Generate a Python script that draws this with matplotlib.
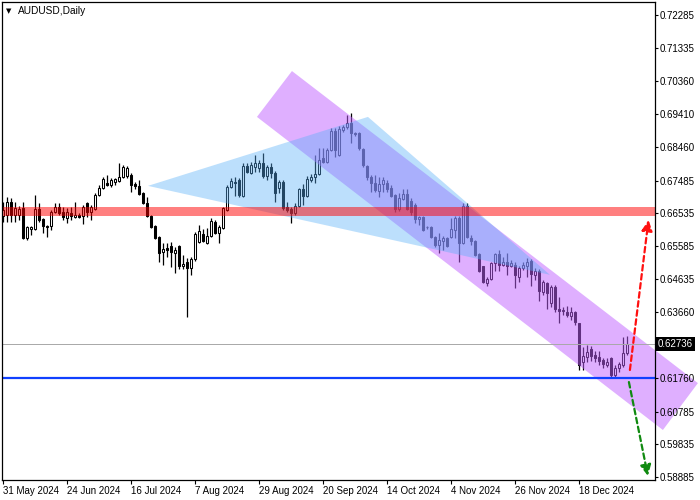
import numpy as np
import matplotlib
matplotlib.use('Agg')
import matplotlib.pyplot as plt
from matplotlib.patches import Polygon, FancyArrowPatch
from matplotlib.transforms import blended_transform_factory

plt.rcParams['font.family'] = ['Liberation Sans', 'DejaVu Sans']

# AUDUSD daily candles, 31 May 2024 .. early Jan 2025
opens = [0.6646, 0.6649, 0.6686, 0.6649, 0.6649, 0.6669, 0.6582, 0.6608, 0.6608, 0.6666,
         0.6637, 0.6617, 0.6617, 0.6657, 0.6672, 0.6657, 0.6640, 0.6654, 0.6643, 0.6649,
         0.6646, 0.6683, 0.6657, 0.6666, 0.6707, 0.6727, 0.6741, 0.6736, 0.6744, 0.6747,
         0.6759, 0.6762, 0.6765, 0.6738, 0.6733, 0.6712, 0.6683, 0.6646, 0.6617, 0.6585,
         0.6541, 0.6553, 0.6559, 0.6538, 0.6559, 0.6501, 0.6512, 0.6495, 0.6521, 0.6570,
         0.6593, 0.6567, 0.6588, 0.6628, 0.6596, 0.6611, 0.6663, 0.6730, 0.6744, 0.6750,
         0.6704, 0.6791, 0.6770, 0.6788, 0.6785, 0.6799, 0.6762, 0.6788, 0.6770, 0.6727,
         0.6744, 0.6672, 0.6666, 0.6654, 0.6675, 0.6724, 0.6704, 0.6750, 0.6759, 0.6767,
         0.6814, 0.6802, 0.6837, 0.6892, 0.6822, 0.6895, 0.6904, 0.6915, 0.6886, 0.6886,
         0.6840, 0.6791, 0.6759, 0.6741, 0.6718, 0.6738, 0.6741, 0.6727, 0.6707, 0.6666,
         0.6695, 0.6709, 0.6689, 0.6678, 0.6637, 0.6643, 0.6614, 0.6614, 0.6585, 0.6562,
         0.6573, 0.6582, 0.6585, 0.6605, 0.6640, 0.6567, 0.6675, 0.6582, 0.6573, 0.6535,
         0.6501, 0.6451, 0.6463, 0.6509, 0.6535, 0.6504, 0.6512, 0.6501, 0.6504, 0.6469,
         0.6495, 0.6501, 0.6515, 0.6475, 0.6486, 0.6425, 0.6451, 0.6393, 0.6440, 0.6376,
         0.6370, 0.6367, 0.6356, 0.6367, 0.6335, 0.6222, 0.6237, 0.6260, 0.6243, 0.6237,
         0.6228, 0.6214, 0.6234, 0.6184, 0.6205, 0.6214, 0.6248]
highs = [0.6686, 0.6701, 0.6698, 0.6686, 0.6675, 0.6686, 0.6617, 0.6617, 0.6707, 0.6683,
         0.6640, 0.6620, 0.6663, 0.6683, 0.6683, 0.6672, 0.6669, 0.6672, 0.6686, 0.6654,
         0.6678, 0.6686, 0.6678, 0.6712, 0.6736, 0.6759, 0.6765, 0.6756, 0.6756, 0.6799,
         0.6794, 0.6791, 0.6770, 0.6744, 0.6750, 0.6715, 0.6701, 0.6649, 0.6620, 0.6588,
         0.6567, 0.6567, 0.6570, 0.6556, 0.6562, 0.6533, 0.6524, 0.6527, 0.6599, 0.6620,
         0.6608, 0.6611, 0.6640, 0.6634, 0.6620, 0.6672, 0.6736, 0.6756, 0.6759, 0.6756,
         0.6799, 0.6799, 0.6802, 0.6823, 0.6808, 0.6828, 0.6794, 0.6799, 0.6776, 0.6750,
         0.6750, 0.6686, 0.6672, 0.6683, 0.6727, 0.6738, 0.6762, 0.6767, 0.6823, 0.6843,
         0.6843, 0.6843, 0.6901, 0.6901, 0.6907, 0.6910, 0.6939, 0.6944, 0.6889, 0.6889,
         0.6843, 0.6794, 0.6765, 0.6765, 0.6759, 0.6759, 0.6750, 0.6736, 0.6709, 0.6712,
         0.6724, 0.6724, 0.6698, 0.6683, 0.6646, 0.6646, 0.6617, 0.6617, 0.6588, 0.6596,
         0.6588, 0.6585, 0.6640, 0.6646, 0.6646, 0.6683, 0.6683, 0.6591, 0.6576, 0.6538,
         0.6501, 0.6469, 0.6512, 0.6538, 0.6547, 0.6527, 0.6538, 0.6518, 0.6512, 0.6501,
         0.6512, 0.6524, 0.6521, 0.6495, 0.6492, 0.6460, 0.6454, 0.6446, 0.6446, 0.6411,
         0.6382, 0.6385, 0.6382, 0.6370, 0.6335, 0.6265, 0.6272, 0.6269, 0.6254, 0.6254,
         0.6234, 0.6234, 0.6237, 0.6214, 0.6222, 0.6294, 0.6298]
lows = [0.6628, 0.6628, 0.6628, 0.6628, 0.6634, 0.6579, 0.6576, 0.6591, 0.6605, 0.6628,
        0.6596, 0.6585, 0.6605, 0.6654, 0.6649, 0.6634, 0.6625, 0.6634, 0.6640, 0.6640,
        0.6622, 0.6643, 0.6634, 0.6663, 0.6704, 0.6724, 0.6733, 0.6730, 0.6736, 0.6744,
        0.6756, 0.6756, 0.6715, 0.6724, 0.6707, 0.6680, 0.6643, 0.6611, 0.6579, 0.6512,
        0.6504, 0.6527, 0.6498, 0.6480, 0.6492, 0.6492, 0.6353, 0.6474, 0.6515, 0.6567,
        0.6570, 0.6564, 0.6585, 0.6593, 0.6567, 0.6608, 0.6660, 0.6727, 0.6704, 0.6701,
        0.6701, 0.6770, 0.6767, 0.6773, 0.6773, 0.6756, 0.6750, 0.6756, 0.6686, 0.6712,
        0.6663, 0.6657, 0.6625, 0.6649, 0.6672, 0.6678, 0.6701, 0.6744, 0.6741, 0.6765,
        0.6799, 0.6799, 0.6834, 0.6817, 0.6820, 0.6889, 0.6898, 0.6857, 0.6878, 0.6837,
        0.6788, 0.6750, 0.6715, 0.6715, 0.6701, 0.6715, 0.6715, 0.6701, 0.6657, 0.6660,
        0.6692, 0.6663, 0.6649, 0.6625, 0.6620, 0.6602, 0.6608, 0.6582, 0.6556, 0.6538,
        0.6547, 0.6556, 0.6582, 0.6582, 0.6512, 0.6564, 0.6582, 0.6562, 0.6530, 0.6483,
        0.6451, 0.6443, 0.6460, 0.6486, 0.6486, 0.6501, 0.6475, 0.6498, 0.6437, 0.6454,
        0.6489, 0.6469, 0.6443, 0.6460, 0.6399, 0.6417, 0.6376, 0.6382, 0.6367, 0.6335,
        0.6358, 0.6353, 0.6344, 0.6330, 0.6199, 0.6199, 0.6222, 0.6225, 0.6222, 0.6214,
        0.6205, 0.6208, 0.6179, 0.6179, 0.6193, 0.6208, 0.6243]
closes = [0.6663, 0.6686, 0.6649, 0.6669, 0.6666, 0.6582, 0.6614, 0.6614, 0.6666, 0.6634,
          0.6617, 0.6614, 0.6657, 0.6672, 0.6654, 0.6643, 0.6657, 0.6646, 0.6649, 0.6643,
          0.6672, 0.6657, 0.6672, 0.6707, 0.6727, 0.6753, 0.6736, 0.6750, 0.6753, 0.6759,
          0.6788, 0.6785, 0.6736, 0.6733, 0.6709, 0.6683, 0.6646, 0.6614, 0.6582, 0.6538,
          0.6550, 0.6547, 0.6541, 0.6547, 0.6501, 0.6506, 0.6495, 0.6521, 0.6593, 0.6602,
          0.6573, 0.6588, 0.6631, 0.6596, 0.6614, 0.6669, 0.6730, 0.6747, 0.6741, 0.6707,
          0.6791, 0.6773, 0.6794, 0.6799, 0.6799, 0.6762, 0.6788, 0.6770, 0.6712, 0.6744,
          0.6669, 0.6663, 0.6654, 0.6675, 0.6724, 0.6704, 0.6753, 0.6759, 0.6767, 0.6808,
          0.6802, 0.6837, 0.6892, 0.6837, 0.6898, 0.6904, 0.6915, 0.6886, 0.6883, 0.6843,
          0.6794, 0.6759, 0.6741, 0.6721, 0.6738, 0.6750, 0.6724, 0.6704, 0.6666, 0.6698,
          0.6709, 0.6666, 0.6657, 0.6637, 0.6643, 0.6605, 0.6613, 0.6585, 0.6562, 0.6576,
          0.6582, 0.6559, 0.6608, 0.6640, 0.6567, 0.6675, 0.6585, 0.6573, 0.6533, 0.6486,
          0.6454, 0.6463, 0.6509, 0.6535, 0.6504, 0.6512, 0.6501, 0.6509, 0.6475, 0.6495,
          0.6504, 0.6512, 0.6477, 0.6486, 0.6428, 0.6454, 0.6422, 0.6440, 0.6376, 0.6370,
          0.6373, 0.6358, 0.6367, 0.6338, 0.6214, 0.6240, 0.6251, 0.6240, 0.6234, 0.6225,
          0.6216, 0.6222, 0.6184, 0.6205, 0.6216, 0.6248, 0.62736]

date_labels = ['31 May 2024', '24 Jun 2024', '16 Jul 2024', '7 Aug 2024', '29 Aug 2024',
               '20 Sep 2024', '14 Oct 2024', '4 Nov 2024', '26 Nov 2024', '18 Dec 2024']
date_bars = [0, 16, 32, 48, 64, 80, 96, 112, 128, 144]
price_ticks = [0.72285, 0.71335, 0.70360, 0.69410, 0.68460, 0.67485, 0.66535,
               0.65585, 0.64635, 0.63660, 0.61760, 0.60785, 0.59835, 0.58885]

# drawn objects (bar index, price)
resistance_zone = (0.6647, 0.6671)
support_level = 0.6176
last_price = 0.62736
channel = [(72.25, 0.7066), (173.75, 0.6161), (165.0, 0.6025), (63.5, 0.6933)]
triangle = [(36.25, 0.6733), (91.25, 0.6933), (136.75, 0.6475)]
up_arrow = [(156.75, 0.6199), (161.4, 0.6634)]
down_arrow = [(156.5, 0.6164), (161.25, 0.5892)]

o = np.array(opens)
h = np.array(highs)
l = np.array(lows)
c = np.array(closes)
x = np.arange(len(o))
up = c >= o

fig = plt.figure(figsize=(7, 5), dpi=100)
ax = fig.add_axes([2 / 700, 20.5 / 500, 652.5 / 700, 478 / 500])

# candles: hollow = up day, black = down day
ax.vlines(x, l, h, color='black', lw=0.9, zorder=0.6)
body_lo = np.minimum(o, c)
body_h = np.maximum(np.abs(c - o), 0.00003)
ax.bar(x[up], body_h[up], bottom=body_lo[up], width=0.58, facecolor='white',
       edgecolor='black', lw=0.75, zorder=0.7)
ax.bar(x[~up], body_h[~up], bottom=body_lo[~up], width=0.58, facecolor='black',
       edgecolor='black', lw=0.75, zorder=0.7)

# objects
ax.add_patch(Polygon(channel, closed=True, facecolor='#c060ff', alpha=0.5,
                     edgecolor='none', zorder=1.0, clip_on=False))
ax.add_patch(Polygon(triangle, closed=True, facecolor='#58b0f8', alpha=0.4,
                     edgecolor='none', zorder=1.1))
ax.axhspan(resistance_zone[0], resistance_zone[1], color='red', alpha=0.5, lw=0, zorder=1.2)
ax.axhline(last_price, color='#a8a8a8', lw=0.7, zorder=1.3)
ax.axhline(support_level, color='#1040ff', lw=1.6, zorder=1.3)

for (a, b), col in [(up_arrow, '#ff1010'), (down_arrow, '#108a10')]:
    arr = FancyArrowPatch(a, b, arrowstyle='-|>', mutation_scale=16, lw=1.6,
                          linestyle=(0, (2.5, 1.6)), color=col, zorder=1.5,
                          shrinkA=0, shrinkB=0)
    ax.add_patch(arr)

ax.set_xlim(-0.25, 162.9)
ax.set_ylim(0.58814, 0.72677)

ax.set_xticks(date_bars)
ax.set_xticklabels(date_labels)
for lab in ax.get_xticklabels():
    lab.set_horizontalalignment('left')
ax.tick_params(axis='x', length=3, width=0.8, pad=1.5, labelsize=7)

ax.yaxis.tick_right()
ax.set_yticks(price_ticks)
ax.set_yticklabels([f'{t:.5f}' for t in price_ticks])
ax.tick_params(axis='y', length=2.5, width=0.8, pad=1.5, labelsize=7)

for s in ax.spines.values():
    s.set_linewidth(0.9)

trans = blended_transform_factory(ax.transAxes, ax.transData)
ax.annotate(f'{last_price:.5f}', xy=(1, last_price), xycoords=trans,
            xytext=(2.4, 0), textcoords='offset points', va='center', ha='left',
            color='white', fontsize=7, annotation_clip=False, zorder=5,
            bbox=dict(boxstyle='square,pad=0.22', fc='black', ec='none'))

fig.text(6 / 700, 1 - 11 / 500, '\u25bc', fontsize=5, va='center', ha='left',
         family=['DejaVu Sans'])
fig.text(18 / 700, 1 - 11.5 / 500, 'AUDUSD,Daily', fontsize=7.3, va='center', ha='left')

plt.savefig('out.png', dpi=100)
